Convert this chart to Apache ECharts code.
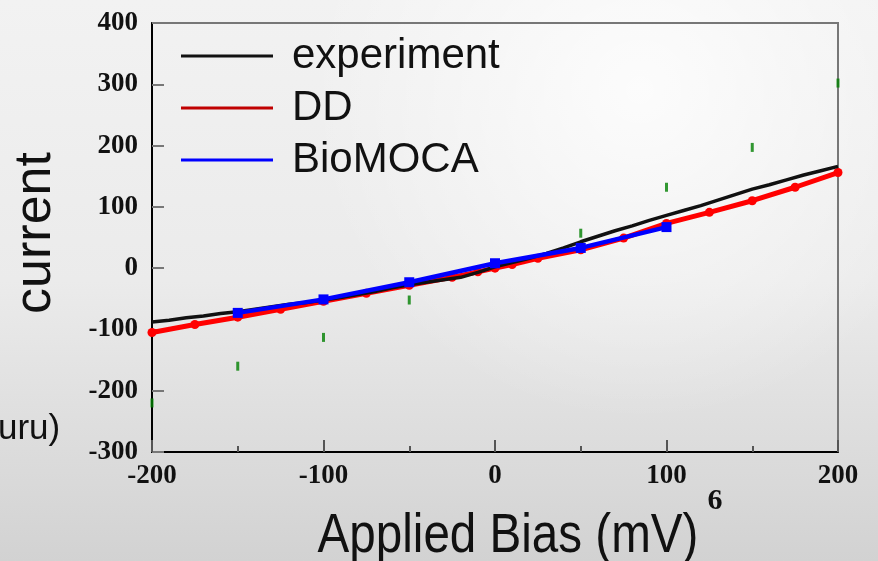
<!DOCTYPE html>
<html>

<head>
    <meta charset="utf-8">
    <title></title>
    <style>
        html, body { margin: 0; padding: 0; }
        #chart { width: 878px; height: 561px; }
    </style>
</head>

<body>
    <div id="chart"></div>
    <script src="https://cdn.jsdelivr.net/npm/echarts@6/dist/echarts.min.js"></script>
    <script>
    // axis ticks
    var xTicks = [-200, -100, 0, 100, 200];
    var yTicks = [-300, -200, -100, 0, 100, 200, 300, 400];

    // experiment (read every 10 mV)
    var expBias = [-200, -190, -180, -170, -160, -150, -140, -130, -120, -110, -100, -90, -80, -70, -60, -50, -40, -30, -20, -10,
        0, 10, 20, 30, 40, 50, 60, 70, 80, 90, 100, 110, 120, 130, 140, 150, 160, 170, 180, 190, 200];
    var expCurrent = [-88, -85, -81, -78, -74, -71, -67, -63, -59, -56, -52, -48, -43, -38, -32, -27, -23, -19, -15, -7,
        2, 9, 16, 24, 33, 43, 52, 61, 69, 78, 86, 94, 102, 111, 120, 129, 136, 144, 152, 159, 166];

    // DD
    var ddBias = [-200, -175, -150, -125, -100, -75, -50, -25, -10, 0, 10, 25, 50, 75, 100, 125, 150, 175, 200];
    var ddCurrent = [-105, -92, -80, -67, -54, -41, -28, -15, -6, 0, 6, 16, 30, 49, 73, 91, 110, 132, 156];

    // BioMOCA
    var bioBias = [-150, -100, -50, 0, 50, 100];
    var bioCurrent = [-73, -51, -23, 8, 33, 67];

    // green marks
    var greenBias = [-200, -150, -100, -50, 50, 100, 150, 200];
    var greenCurrent = [-220, -160, -113, -52, 57, 132, 197, 302];

    function pairs(xs, ys) {
        return xs.map(function(x, i) { return [x, ys[i]]; });
    }

    var myChart = echarts.init(document.getElementById('chart'));

    var tickFont = {
        fontFamily: 'Liberation Serif',
        fontWeight: 'bold',
        fontSize: 27,
        color: '#111'
    };

    var option = {
        animation: false,
        backgroundColor: {
            type: 'linear', x: 0, y: 0, x2: 0, y2: 1,
            colorStops: [
                { offset: 0, color: '#f2f2f2' },
                { offset: 0.5, color: '#ebebeb' },
                { offset: 1, color: '#d2d2d2' }
            ]
        },
        grid: {
            left: 152, right: 40, top: 23, bottom: 109,
            show: true,
            borderColor: '#777',
            borderWidth: 2,
            backgroundColor: 'transparent'
        },
        legend: {
            orient: 'vertical',
            left: 176,
            top: 29,
            icon: 'rect',
            itemWidth: 92,
            itemHeight: 3,
            itemGap: 8,
            textStyle: {
                fontFamily: 'Liberation Sans',
                fontSize: 42,
                lineHeight: 44,
                color: '#111',
                padding: [0, 0, 0, 14]
            },
            data: [
                { name: 'experiment', itemStyle: { color: '#111' } },
                { name: 'DD', itemStyle: { color: '#c00000' } },
                { name: 'BioMOCA', itemStyle: { color: '#0000ff' } }
            ]
        },
        xAxis: {
            type: 'value',
            min: -200, max: 200, interval: 100,
            axisLine: { onZero: false, lineStyle: { color: '#000', width: 2 } },
            axisTick: { inside: true, length: 12, lineStyle: { color: '#555', width: 2 } },
            minorTick: { show: true, splitNumber: 2, length: 6, lineStyle: { color: '#555', width: 2 } },
            splitLine: { show: false },
            axisLabel: Object.assign({ margin: 11 }, tickFont)
        },
        yAxis: {
            type: 'value',
            min: -300, max: 400, interval: 100,
            axisLine: { onZero: false, lineStyle: { color: '#000', width: 2 } },
            axisTick: { inside: true, length: 12, lineStyle: { color: '#777', width: 2 } },
            splitLine: { show: false },
            axisLabel: Object.assign({ margin: 14 }, tickFont)
        },
        series: [{
            name: 'DD',
            type: 'line',
            data: pairs(ddBias, ddCurrent),
            symbol: 'circle',
            symbolSize: 9,
            color: '#ff0000',
            lineStyle: { width: 5, color: '#ff0000' },
            z: 2
        }, {
            name: 'experiment',
            type: 'line',
            data: pairs(expBias, expCurrent),
            showSymbol: false,
            color: '#111',
            lineStyle: { width: 3.5, color: '#111' },
            z: 3
        }, {
            name: 'BioMOCA',
            type: 'line',
            data: pairs(bioBias, bioCurrent),
            symbol: 'rect',
            symbolSize: 10,
            color: '#0000ff',
            lineStyle: { width: 4.5, color: '#0000ff' },
            z: 4
        }, {
            name: 'marks',
            type: 'scatter',
            data: pairs(greenBias, greenCurrent),
            symbol: 'rect',
            symbolSize: [3, 9],
            clip: false,
            itemStyle: { color: '#008000' },
            z: 5
        }],
        graphic: [{
            type: 'circle',
            z: -10,
            shape: { cx: 640, cy: 90, r: 330 },
            style: {
                fill: {
                    type: 'radial', x: 0.5, y: 0.5, r: 0.5,
                    colorStops: [
                        { offset: 0, color: 'rgba(255,255,255,0.8)' },
                        { offset: 1, color: 'rgba(255,255,255,0)' }
                    ]
                }
            },
            silent: true
        }, {
            type: 'text',
            x: 36, y: 233,
            rotation: Math.PI / 2,
            style: {
                text: 'current',
                font: '52px "Liberation Sans"',
                fill: '#111',
                align: 'center',
                verticalAlign: 'middle'
            }
        }, {
            type: 'text',
            x: 508, y: 537,
            scaleX: 0.85,
            style: {
                text: 'Applied Bias (mV)',
                font: '56px "Liberation Sans"',
                fill: '#111',
                align: 'center',
                verticalAlign: 'middle'
            }
        }, {
            type: 'text',
            x: -2, y: 429,
            style: {
                text: 'uru)',
                font: '35px "Liberation Sans"',
                fill: '#111',
                align: 'left',
                verticalAlign: 'middle'
            }
        }, {
            type: 'text',
            x: 715, y: 501,
            style: {
                text: '6',
                font: 'bold 30px "Liberation Serif"',
                fill: '#111',
                align: 'center',
                verticalAlign: 'middle'
            }
        }]
    };

    myChart.setOption(option);
    addEventListener('resize', myChart.resize);
    </script>
</body>

</html>
